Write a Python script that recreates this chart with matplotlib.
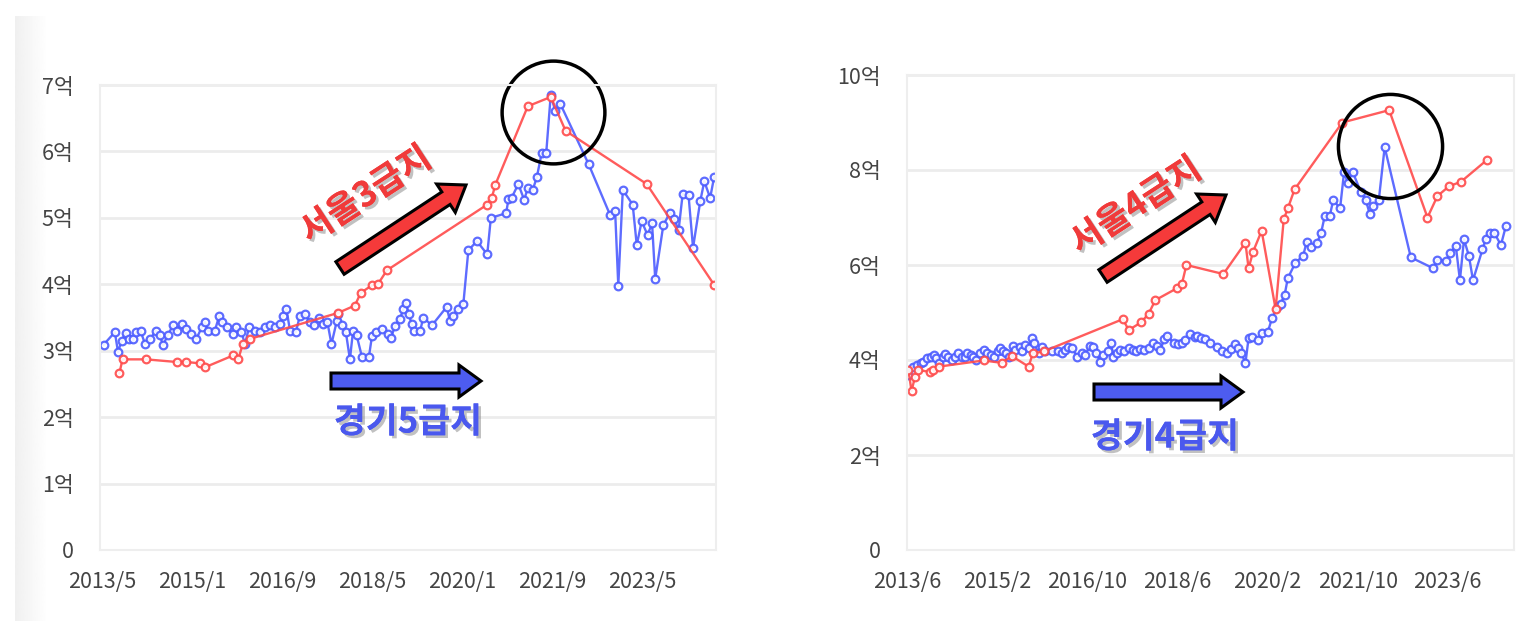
import numpy as np
import matplotlib
matplotlib.use("Agg")
import matplotlib.pyplot as plt
import matplotlib.patheffects as pe
from matplotlib.patches import FancyArrow
from matplotlib.transforms import IdentityTransform

plt.rcParams['font.family'] = ['Noto Sans CJK KR', 'DejaVu Sans']

# x = months since first tick label, y = price in 억
# ---- left chart: 서울3급지 vs 경기5급지 ----
left_ticks = ['2013/5', '2015/1', '2016/9', '2018/5', '2020/1', '2021/9', '2023/5']
seoul3_m = [3.9, 4.6, 9.8, 16.7, 18.8, 21.8, 22.9, 29.2, 30.3, 31.3, 33.0, 52.5, 56.2,
            57.5, 60.1, 61.4, 63.3, 85.6, 86.6, 87.4, 94.6, 99.7, 103.0, 121.0, 136.0]
seoul3_v = [2.66, 2.87, 2.87, 2.83, 2.83, 2.81, 2.75, 2.93, 2.87, 3.10, 3.18, 3.57, 3.68,
            3.87, 3.99, 4.01, 4.21, 5.20, 5.30, 5.50, 6.68, 6.82, 6.31, 5.51, 3.99]
gg5_m = [0.4, 2.9, 3.6, 4.4, 5.3, 6.1, 7.0, 7.7, 8.6, 9.6, 10.8, 12.0, 12.9, 13.6, 14.6,
         15.8, 16.7, 17.7, 18.8, 19.9, 21.0, 22.2, 22.9, 23.6, 25.1, 26.1, 26.7, 27.8,
         29.2, 29.9, 31.0, 31.8, 32.7, 34.0, 35.1, 36.2, 37.3, 38.4, 39.6, 40.3, 41.0,
         41.8, 43.1, 44.0, 45.1, 46.2, 47.1, 48.3, 49.2, 50.1, 51.0, 52.2, 52.5, 53.3,
         54.2, 55.1, 55.8, 56.6, 57.8, 59.3, 60.0, 61.0, 62.2, 63.5, 64.2, 65.1, 66.2,
         67.0, 67.5, 68.2, 68.8, 69.4, 70.7, 71.4, 73.3, 76.6, 77.3, 78.1, 79.2, 80.3,
         81.4, 83.3, 85.6, 86.4, 89.8, 90.3, 91.0, 92.5, 93.8, 94.6, 95.7, 96.6, 97.7,
         98.7, 99.7, 100.7, 101.8, 108.1, 112.9, 114.0, 114.7, 115.7, 117.9, 118.8,
         119.9, 121.2, 122.2, 122.9, 124.7, 126.2, 127.1, 128.1, 129.0, 130.3, 131.3,
         132.9, 133.8, 135.1, 136.0]
gg5_v = [3.09, 3.28, 2.98, 3.15, 3.27, 3.18, 3.18, 3.28, 3.30, 3.10, 3.18, 3.30, 3.23,
         3.08, 3.23, 3.38, 3.30, 3.40, 3.33, 3.25, 3.18, 3.35, 3.43, 3.30, 3.30, 3.53,
         3.43, 3.35, 3.25, 3.35, 3.28, 3.10, 3.35, 3.30, 3.28, 3.35, 3.38, 3.35, 3.40,
         3.53, 3.63, 3.30, 3.28, 3.53, 3.55, 3.43, 3.38, 3.50, 3.40, 3.43, 3.10, 3.45,
         3.55, 3.38, 3.28, 2.87, 3.30, 3.23, 2.90, 2.90, 3.22, 3.28, 3.32, 3.25, 3.19,
         3.37, 3.48, 3.63, 3.72, 3.55, 3.40, 3.30, 3.30, 3.50, 3.38, 3.66, 3.45, 3.53,
         3.63, 3.71, 4.51, 4.65, 4.45, 5.00, 5.07, 5.28, 5.30, 5.51, 5.27, 5.45, 5.42,
         5.61, 5.98, 5.98, 6.85, 6.61, 6.72, 5.81, 5.04, 5.10, 3.98, 5.42, 5.20, 4.59,
         4.95, 4.74, 4.92, 4.08, 4.89, 5.08, 4.98, 4.82, 5.36, 5.34, 4.55, 5.25, 5.55,
         5.30, 5.62]

# ---- right chart: 서울4급지 vs 경기4급지 ----
right_ticks = ['2013/6', '2015/2', '2016/10', '2018/6', '2020/2', '2021/10', '2023/6']
seoul4_m = [0.3, 1.0, 1.8, 2.5, 5.0, 5.8, 7.0, 17.0, 21.0, 23.3, 27.0, 27.9, 30.3, 47.9,
            49.2, 51.9, 53.6, 55.1, 59.9, 61.0, 62.0, 70.2, 75.1, 75.8, 76.8, 78.7, 81.8,
            83.6, 84.5, 86.0, 96.6, 107.0, 115.5, 117.7, 120.3, 122.9, 128.8]
seoul4_v = [3.79, 3.35, 3.65, 3.79, 3.75, 3.80, 3.86, 3.99, 3.94, 4.08, 3.86, 4.14, 4.18,
            4.86, 4.63, 4.79, 4.97, 5.26, 5.51, 5.60, 6.00, 5.81, 6.47, 5.93, 6.28, 6.72,
            5.07, 6.96, 7.19, 7.59, 9.00, 9.26, 7.00, 7.45, 7.66, 7.75, 8.22]
gg4_m = [0.3, 1.4, 2.2, 3.0, 3.6, 4.5, 5.3, 6.0, 6.4, 7.2, 7.9, 8.4, 9.2, 9.9, 10.7, 11.4,
         12.2, 12.9, 13.3, 14.2, 14.6, 15.3, 16.1, 17.0, 17.8, 18.6, 19.3, 20.1, 20.7,
         21.4, 22.0, 22.7, 23.5, 24.0, 25.0, 25.5, 26.2, 27.0, 27.7, 28.2, 29.2, 29.9,
         30.7, 32.2, 33.4, 34.4, 35.1, 35.8, 36.6, 37.8, 38.8, 39.6, 40.5, 41.3, 42.0,
         42.9, 43.6, 44.5, 45.3, 45.8, 46.6, 47.3, 48.1, 49.2, 50.2, 50.9, 51.8, 52.7,
         53.6, 54.7, 55.5, 56.2, 57.1, 57.8, 59.2, 60.1, 61.0, 61.8, 62.9, 63.8, 64.4,
         65.3, 66.2, 67.2, 68.8, 69.9, 71.0, 71.9, 72.7, 73.4, 74.2, 75.1, 75.8, 76.6,
         77.8, 78.8, 80.1, 81.0, 82.3, 82.9, 83.8, 84.5, 86.2, 87.9, 88.7, 89.7, 91.0,
         91.9, 92.7, 93.8, 94.6, 96.1, 97.0, 97.8, 98.9, 100.7, 101.8, 102.7, 103.5,
         104.7, 106.0, 111.8, 116.8, 117.7, 119.6, 120.5, 121.8, 122.7, 123.6, 124.7,
         125.6, 127.7, 128.4, 129.4, 130.3, 131.8, 132.9]
gg4_v = [3.68, 3.86, 3.89, 3.94, 3.96, 4.04, 4.06, 4.11, 4.04, 3.94, 4.07, 4.13, 4.06,
         4.01, 4.07, 4.14, 4.07, 4.06, 4.14, 4.11, 4.06, 4.00, 4.14, 4.21, 4.15, 4.11,
         4.07, 4.20, 4.25, 4.18, 4.14, 4.07, 4.29, 4.22, 4.27, 4.18, 4.32, 4.25, 4.46,
         4.35, 4.14, 4.27, 4.18, 4.18, 4.18, 4.14, 4.21, 4.28, 4.25, 4.07, 4.14, 4.11,
         4.29, 4.27, 4.14, 3.96, 4.11, 4.18, 4.36, 4.07, 4.14, 4.21, 4.18, 4.25, 4.21,
         4.18, 4.23, 4.21, 4.25, 4.35, 4.29, 4.21, 4.44, 4.51, 4.35, 4.34, 4.36, 4.42,
         4.55, 4.49, 4.51, 4.46, 4.44, 4.36, 4.28, 4.18, 4.15, 4.23, 4.34, 4.25, 4.15,
         3.93, 4.46, 4.48, 4.42, 4.56, 4.60, 4.88, 5.14, 5.18, 5.37, 5.72, 6.05, 6.19,
         6.49, 6.37, 6.47, 6.68, 7.03, 7.03, 7.37, 7.19, 7.96, 7.73, 7.96, 7.54, 7.37,
         7.07, 7.24, 7.37, 8.48, 6.16, 5.93, 6.11, 6.09, 6.25, 6.39, 5.68, 6.54, 6.19,
         5.68, 6.33, 6.54, 6.67, 6.68, 6.42, 6.82]

RED = '#ff4a4a'
BLUE = '#4c5cff'
W, H = 1525, 641

fig = plt.figure(figsize=(W / 100, H / 100), dpi=100)
fig.patch.set_facecolor('white')

# faint grey band on the far left edge (screenshot edge)
band = fig.add_axes([15 / W, 20 / H, 32 / W, 605 / H])
band.imshow(np.linspace(0.94, 1.0, 50)[None, :], cmap='gray', vmin=0, vmax=1,
            aspect='auto', extent=[0, 1, 0, 1])
band.axis('off')


def setup(ax, ymax, ystep, ticks, xmax, xmin):
    ax.set_xlim(xmin, xmax)
    ax.set_ylim(0, ymax)
    yt = np.arange(0, ymax + 0.01, ystep)
    ax.set_yticks(yt)
    ax.set_yticklabels(['0'] + ['%d억' % v for v in yt[1:]])
    ax.set_xticks(np.arange(0, 121, 20))
    ax.set_xticklabels(ticks)
    ax.grid(axis='y', color='#ececec', lw=2)
    ax.set_axisbelow(True)
    for s in ax.spines.values():
        s.set_color('#eeeeee')
        s.set_linewidth(1.5)
    ax.tick_params(length=0, labelsize=15.5, colors='#444444')
    ax.tick_params(axis='y', pad=19)
    ax.tick_params(axis='x', pad=15)


def series(ax, m, v, c):
    ax.plot(m, v, '-o', color=c, lw=1.7, ms=5.5, mfc='white', mec=c, mew=1.6,
            alpha=0.9)


ax1 = fig.add_axes([100 / W, 91 / H, 616 / W, 465 / H])
setup(ax1, 7, 1, left_ticks, 136.4, -0.4)
series(ax1, gg5_m, gg5_v, BLUE)
series(ax1, seoul3_m, seoul3_v, RED)
ax1.plot([100.2], [6.6], 'o', ms=74, mfc='none', mec='black', mew=2.5, clip_on=False)

ax2 = fig.add_axes([907 / W, 91 / H, 607 / W, 475 / H])
setup(ax2, 10, 2, right_ticks, 134.7, 0)
series(ax2, gg4_m, gg4_v, BLUE)
series(ax2, seoul4_m, seoul4_v, RED)
ax2.plot([107.1], [8.5], 'o', ms=75, mfc='none', mec='black', mew=2.5, clip_on=False)


# arrows, in image pixels (y measured from top)
def arrow(x0, y0, x1, y1, color, width=15, hw=34, hl=24):
    a = FancyArrow(x0, H - y0, x1 - x0, -(y1 - y0), width=width, head_width=hw,
                   head_length=hl, length_includes_head=True, fc=color,
                   ec='black', lw=2.2, transform=IdentityTransform())
    fig.add_artist(a)


arrow(340, 268, 466, 185, '#f53a3a')
arrow(331, 381, 481, 381, '#4d5cf0', width=16, hw=32, hl=22)
arrow(1103, 276, 1226, 195, '#f53a3a')
arrow(1094, 392, 1243, 392, '#4d5cf0', width=16, hw=32, hl=22)

shadow = [pe.withSimplePatchShadow(offset=(2, -2), shadow_rgbFace='#777777', alpha=0.45),
          pe.Normal()]


def label(x, y, s, color, rot):
    fig.text(x / W, 1 - y / H, s, color=color, fontsize=25, fontweight='bold',
             rotation=rot, ha='center', va='center', path_effects=shadow)


label(366, 195, '서울3급지', '#f03a3a', 33)
label(408, 422, '경기5급지', '#4a58ee', 0)
label(1136, 206, '서울4급지', '#f03a3a', 33)
label(1165, 437, '경기4급지', '#4a58ee', 0)

fig.savefig('out.png', dpi=100)
